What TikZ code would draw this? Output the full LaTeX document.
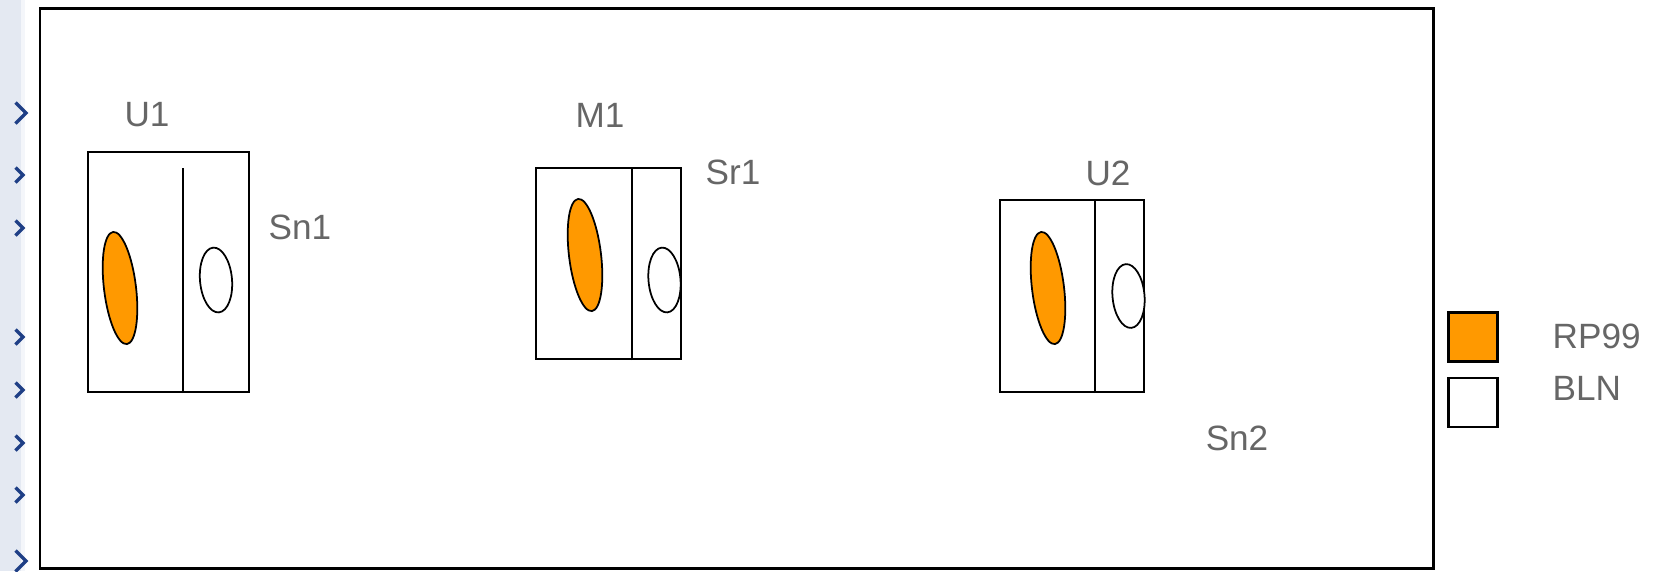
\documentclass[tikz,border=0pt]{standalone}
\usepackage{tikz}
\usetikzlibrary{shapes.geometric,calc,positioning}
\usepackage{fontspec}
\setmainfont{Liberation Sans}
\definecolor{FuelOrange}{HTML}{FF9900}
\definecolor{LabelGray}{HTML}{666666}
\definecolor{PanelBlue}{HTML}{E4E9F2}
\definecolor{ArrowBlue}{HTML}{1F3F86}

\begin{document}
\begin{tikzpicture}[
        unit/.style={draw,line width=0.6pt,inner sep=0pt},
        pellet/.style={ellipse,draw,line width=0.5pt,inner sep=0pt,
                       minimum width=0.32cm},
        swatch/.style={draw,line width=0.85pt,minimum size=0.49cm,inner sep=0pt},
        txt/.style={font=\fontsize{10}{12}\selectfont,text=LabelGray,inner sep=0pt}]

        \useasboundingbox (0,0) rectangle (16.6,-5.71);

        % side strip with its chevrons
        \fill[PanelBlue] (0,0) rectangle (0.21,-5.71);
        \fill[PanelBlue!40] (0.21,0) rectangle (0.25,-5.71);
        \foreach \y/\s in {1.13/1.4,1.75/1,2.28/1,3.37/1,3.90/1,4.43/1,4.95/1,5.61/1.4}{
          \draw[ArrowBlue,line width=0.95pt]
            (0.155,{-\y+0.075*\s}) -- ++({0.075*\s},{-0.075*\s}) -- ++({-0.075*\s},{-0.075*\s});
        }

        % outer frame
        \draw[line width=0.85pt] (0.40,-0.085) rectangle (14.33,-5.685);

        % the three units
        \node[unit,minimum width=1.61cm,minimum height=2.40cm] (u1) at (1.685,-2.72) {};
        \node[unit,minimum width=1.45cm,minimum height=1.91cm] (m1) at (6.085,-2.635) {};
        \node[unit,minimum width=1.44cm,minimum height=1.92cm] (u2) at (10.72,-2.96) {};

        \draw[line width=0.8pt] ($(u1.south west)+(0.96,0)$) -- ++(0,2.25);
        \draw[line width=0.8pt] ($(m1.south west)+(0.97,0)$) -- ($(m1.north west)+(0.97,0)$);
        \draw[line width=0.8pt] ($(u2.south west)+(0.96,0)$) -- ($(u2.north west)+(0.96,0)$);

        \node[pellet,fill=FuelOrange,minimum height=1.13cm,rotate=7] (u1a) at (1.20,-2.88) {};
        \node[pellet,fill=white,minimum height=0.65cm,rotate=5]      (u1b) at (2.16,-2.80) {};
        \node[pellet,fill=FuelOrange,minimum height=1.13cm,rotate=7] (m1a) at (5.85,-2.55) {};
        \node[pellet,fill=white,minimum height=0.65cm,rotate=5]      (m1b) at (6.645,-2.80) {};
        \node[pellet,fill=FuelOrange,minimum height=1.13cm,rotate=7] (u2a) at (10.48,-2.88) {};
        \node[pellet,fill=white,minimum height=0.64cm,rotate=5]      (u2b) at (11.285,-2.96) {};

        \node[txt] (u1t) at (1.47,-1.15)  {U1};
        \node[txt] (sn1) at (3.00,-2.27)  {Sn1};
        \node[txt] (m1t) at (6.00,-1.15)  {M1};
        \node[txt] (sr1) at (7.33,-1.72)  {Sr1};
        \node[txt] (u2t) at (11.08,-1.73) {U2};
        \node[txt] (sn2) at (12.37,-4.38) {Sn2};

        % legend
        \node[swatch,fill=FuelOrange] (kfuel) at (14.725,-3.365) {};
        \node[swatch,fill=white,below=0.14cm of kfuel] (kblank) {};
        \node[txt,anchor=west] (kfuelt)  at (15.52,-3.36) {RP99};
        \node[txt,anchor=west] (kblankt) at (15.52,-3.88) {BLN};
      \end{tikzpicture}
\end{document}
